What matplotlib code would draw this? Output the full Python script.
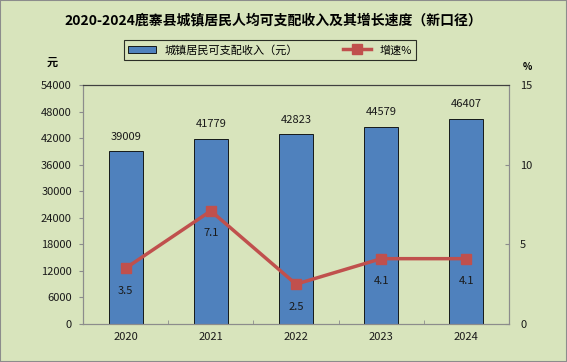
import numpy as np
import matplotlib
matplotlib.use('Agg')
import matplotlib.pyplot as plt
from matplotlib.patches import Rectangle
from matplotlib.lines import Line2D

plt.rcParams['font.family'] = ['Noto Sans CJK SC', 'DejaVu Sans']

# data
years = ['2020', '2021', '2022', '2023', '2024']
income = [39009, 41779, 42823, 44579, 46407]
growth = [3.5, 7.1, 2.5, 4.1, 4.1]

bg = '#D8E4BC'
bar_color = '#4F81BD'
line_color = '#C0504D'
text_color = '#1a1a1a'

fig = plt.figure(figsize=(5.67, 3.62), dpi=100, facecolor=bg)
fig.patches.append(Rectangle((0, 0), 1, 1, transform=fig.transFigure,
                             fill=False, edgecolor='#8c8c8c', lw=1.5))

W, H = 567, 362
ax1 = fig.add_axes([83 / W, 1 - 324 / H, (509 - 83) / W, (324 - 85) / H])
ax1.set_facecolor(bg)
x = np.arange(len(years))
ax1.bar(x, income, width=0.4, color=bar_color, edgecolor='black', lw=0.6, zorder=2)
ax1.set_xlim(-0.5, len(years) - 0.5)
ax1.set_ylim(0, 54000)
ax1.set_yticks(np.arange(0, 54001, 6000))
ax1.set_xticks(x)
ax1.set_xticklabels(years)
ax1.set_xticks(np.arange(-0.5, len(years)), minor=True)
ax1.tick_params(axis='x', which='major', length=0, labelsize=8, pad=6, colors=text_color)
ax1.tick_params(axis='x', which='minor', length=3, direction='in', color='#8c8c8c')
ax1.tick_params(axis='y', length=3, direction='out', labelsize=8, color='#8c8c8c',
                labelcolor=text_color, pad=5)
for s in ['left', 'bottom', 'right']:
    ax1.spines[s].set_color('#8c8c8c')
ax1.spines['top'].set_color('#404040')

for xi, v in zip(x, income):
    ax1.text(xi, v + 2200, str(v), ha='center', va='bottom', fontsize=8, color=text_color)

ax2 = ax1.twinx()
ax2.plot(x, growth, color=line_color, lw=2.5, marker='s', markersize=7, zorder=3)
ax2.set_ylim(0, 15)
ax2.set_yticks([0, 5, 10, 15])
ax2.tick_params(axis='y', length=3, direction='in', labelsize=8, color='#8c8c8c',
                labelcolor=text_color, pad=8)
for s in ['left', 'bottom', 'right']:
    ax2.spines[s].set_color('#8c8c8c')
ax2.spines['top'].set_color('#404040')

for xi, v in zip(x, growth):
    ax2.text(xi, v - 1.1, f'{v}', ha='center', va='top', fontsize=8, color=text_color)

fig.text(273 / W, 1 - 20 / H, '2020-2024鹿寨县城镇居民人均可支配收入及其增长速度（新口径）',
         ha='center', va='center', fontsize=10, fontweight='bold', color='black')
fig.text(52 / W, 1 - 62 / H, '元', ha='center', va='center', fontsize=8, fontweight='bold')
fig.text(527 / W, 1 - 67 / H, '%', ha='center', va='center', fontsize=7, fontweight='bold')

handles = [Rectangle((0, 0), 1, 1, facecolor=bar_color, edgecolor='black', lw=0.6),
           Line2D([], [], color=line_color, lw=2.5, marker='s', markersize=7)]
leg = fig.legend(handles, ['城镇居民可支配收入（元）', '增速%'], loc='center',
                 bbox_to_anchor=(270 / W, 1 - 50 / H), ncol=2, fontsize=8,
                 frameon=True, fancybox=False, edgecolor='black', facecolor=bg,
                 columnspacing=4, handlelength=2.5, borderpad=0.4)
leg.get_frame().set_linewidth(0.8)

fig.savefig('out.png', dpi=100, facecolor=bg)
